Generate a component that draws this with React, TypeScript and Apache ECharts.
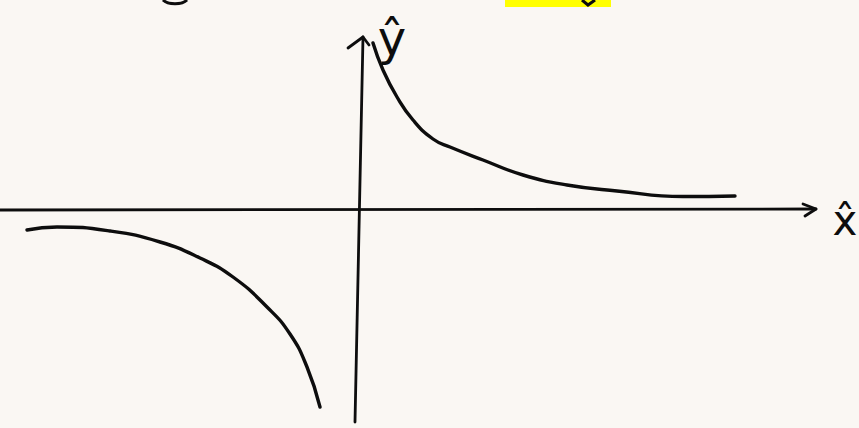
import React, { useEffect, useRef } from "react";
import * as echarts from "echarts";

// Sketch of y = 1/x: two hyperbola branches on hand-drawn axes (1 unit = 50 px).
const rightBranch: [number, number][] = [
  [0.32, 3.34], [0.52, 2.8], [0.8, 2.26], [1.12, 1.8], [1.52, 1.42], [1.86, 1.26],
  [2.52, 1.0], [3.32, 0.7], [4.2, 0.5], [5.2, 0.38], [6.52, 0.27], [7.56, 0.28],
];
const leftBranch: [number, number][] = [
  [-6.6, -0.4], [-6.0, -0.34], [-4.94, -0.42], [-3.94, -0.64], [-3.14, -0.96],
  [-2.48, -1.34], [-1.8, -1.94], [-1.34, -2.48], [-1.0, -3.14], [-0.74, -3.94],
];
const xAxisLine: [number, number][] = [[-7.14, 0], [9.18, 0.02]];
const xArrowHead: [number, number][] = [[8.92, 0.12], [9.18, 0.02], [8.96, -0.12]];
const yAxisLine: [number, number][] = [[-0.04, -4.24], [0.12, 3.46]];
const yArrowHead: [number, number][] = [[-0.18, 3.24], [0.12, 3.46], [0.24, 3.3]];
const xLabel = "x\u0302";
const yLabel = "\u0177";

const INK = "#0d0d0d";
const PAPER = "#faf7f3";

function stroke(name: string, data: [number, number][], width: number, smooth: number | boolean) {
  return {
    name,
    type: "line",
    data,
    smooth,
    showSymbol: false,
    symbol: "none",
    silent: true,
    lineStyle: { color: INK, width, cap: "round", join: "round" },
  };
}

export default function App() {
  const ref = useRef<HTMLDivElement>(null);
  useEffect(() => {
    document.body.style.margin = "0";
    document.body.style.background = PAPER;
    const chart = echarts.init(ref.current!, undefined, { renderer: "svg" });
    chart.setOption({
      animation: false,
      backgroundColor: PAPER,
      grid: { left: 0, right: 0, top: 0, bottom: 0 },
      xAxis: { type: "value", min: -7.14, max: 10.04, show: false },
      yAxis: { type: "value", min: -4.36, max: 4.2, show: false },
      series: [
        stroke("x axis", xAxisLine, 2.8, false),
        stroke("x arrow", xArrowHead, 2.8, false),
        stroke("y axis", yAxisLine, 2.8, false),
        stroke("y arrow", yArrowHead, 2.8, false),
        stroke("x > 0", rightBranch, 3.4, 0.5),
        stroke("x < 0", leftBranch, 3.4, 0.5),
      ],
      graphic: [
        {
          type: "text",
          x: 392,
          y: 38,
          style: {
            text: yLabel,
            fill: INK,
            font: "48px 'DejaVu Sans'",
            textAlign: "center",
            textVerticalAlign: "middle",
          },
        },
        {
          type: "text",
          x: 845,
          y: 220,
          style: {
            text: xLabel,
            fill: INK,
            font: "42px 'DejaVu Sans'",
            textAlign: "center",
            textVerticalAlign: "middle",
          },
        },
        // handwriting running off the top edge
        { type: "rect", shape: { x: 505, y: 0, width: 106, height: 7 }, style: { fill: "#ffff00" } },
        {
          type: "polyline",
          shape: { points: [[582, 0], [588, 5], [595, 0]] },
          style: { stroke: INK, lineWidth: 3, fill: "none" },
        },
        {
          type: "bezierCurve",
          shape: { x1: 163, y1: 0, x2: 187, y2: 0, cpx1: 168, cpy1: 5, cpx2: 182, cpy2: 5 },
          style: { stroke: INK, lineWidth: 3, fill: "none" },
        },
      ],
    });
    return () => chart.dispose();
  }, []);
  return (
    <div
      ref={ref}
      style={{ position: "fixed", left: 0, top: 0, width: 859, height: 428 }}
    />
  );
}
